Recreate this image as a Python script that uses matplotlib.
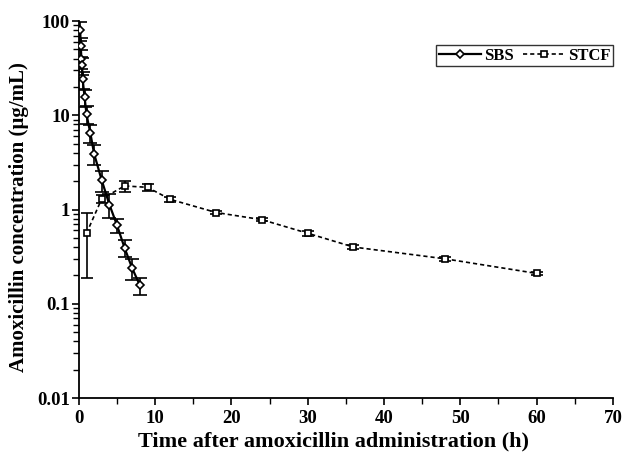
import numpy as np
import matplotlib.pyplot as plt
from matplotlib.lines import Line2D

# Datos
t_sbs = [0.17, 0.25, 0.33, 0.42, 0.5, 0.75, 1, 1.5, 2, 3, 4, 5, 6, 7, 8]
c_sbs = [80, 54, 40, 34, 24, 15.5, 10.2, 6.5, 3.9, 2.04, 1.13, 0.68, 0.39, 0.237, 0.157]
sd_sbs = [18, 12, 9, 7, 5, 3.2, 2.2, 1.4, 0.9, 0.5, 0.32, 0.12, 0.08, 0.06, 0.033]

t_stcf = [1, 3, 6, 9, 12, 18, 24, 30, 36, 48, 60]
c_stcf = [0.56, 1.3, 1.78, 1.72, 1.28, 0.93, 0.78, 0.56, 0.40, 0.30, 0.21]
sd_stcf = [0.37, 0.12, 0.25, 0.15, 0.08, 0.04, 0.03, 0.03, 0.02, 0.015, 0.01]

plt.rcParams['font.family'] = ['Liberation Serif', 'DejaVu Serif']
plt.rcParams['font.weight'] = 'bold'

fig = plt.figure(figsize=(6.26, 4.58), dpi=100)
ax = fig.add_axes([0.126, 0.131, 0.853, 0.823])

sbs_style = dict(color='black', lw=1.6, marker='D', markersize=4.5,
                 markerfacecolor='white', markeredgecolor='black',
                 markeredgewidth=1.2)
stcf_style = dict(color='black', lw=1.2, linestyle=(0, (2.5, 1.8)), marker='s',
                  markersize=5, markerfacecolor='white', markeredgecolor='black',
                  markeredgewidth=1.2)

ax.errorbar(t_sbs, c_sbs, yerr=sd_sbs, ecolor='black', elinewidth=1.2,
            capsize=5, capthick=1.2, zorder=3, **sbs_style)
ax.errorbar(t_stcf, c_stcf, yerr=sd_stcf, ecolor='black', elinewidth=1.2,
            capsize=4, capthick=1.2, zorder=2, **stcf_style)

ax.set_yscale('log')
ax.set_ylim(0.01, 100)
ax.set_xlim(0, 70)
ax.set_xticks(np.arange(0, 71, 10))
ax.set_xticks(np.arange(0, 71, 5), minor=True)
ax.set_yticks([0.01, 0.1, 1, 10, 100])
ax.set_yticklabels(['0.01', '0.1', '1', '10', '100'])

for s in ['top', 'right']:
    ax.spines[s].set_visible(False)
for s in ['left', 'bottom']:
    ax.spines[s].set_linewidth(1.3)

ax.tick_params(axis='both', which='major', direction='out', length=5, width=1.2,
               labelsize=13.5)
ax.tick_params(axis='y', which='major', pad=1.5)
ax.tick_params(axis='both', which='minor', direction='out', length=4, width=1.0)

ax.set_xlabel('Time after amoxicillin administration (h)', fontsize=16,
              fontweight='bold')
ax.set_ylabel('Amoxicillin concentration (µg/mL)', fontsize=15,
              fontweight='bold')
ax.xaxis.set_label_coords(0.476, -0.088)
ax.yaxis.set_label_coords(-0.094, 0.48)

# Leyenda sin barras de error
handles = [Line2D([], [], **sbs_style), Line2D([], [], **stcf_style)]
leg = ax.legend(handles, ['SBS', 'STCF'], loc='upper right',
                bbox_to_anchor=(1.0, 0.936), ncol=2, frameon=True,
                fancybox=False, edgecolor='black', fontsize=12,
                handlelength=2.5, columnspacing=0.55, borderpad=0.15,
                handletextpad=0.2, borderaxespad=0)
leg.get_frame().set_linewidth(1.0)

fig.savefig('out.png', dpi=100)
